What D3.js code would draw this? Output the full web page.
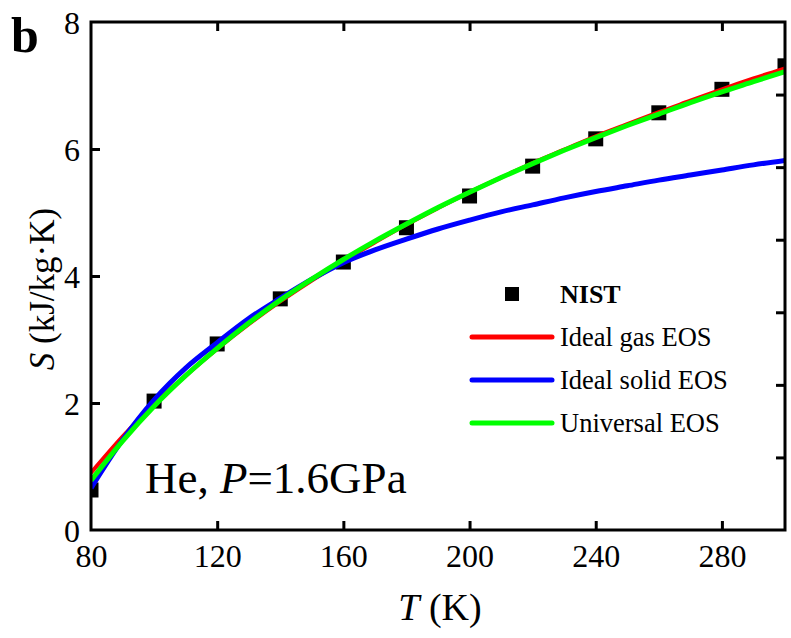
<!DOCTYPE html>
<html><head><meta charset="utf-8">
<script src="https://cdn.jsdelivr.net/npm/d3@7"></script>
<style>body{margin:0;background:#fff}svg{display:block}</style>
</head><body>
<script>
const nistT = [80,100,120,140,160,180,200,220,240,260,280,300];
const nistS = [0.63,2.03,2.93,3.64,4.22,4.76,5.26,5.73,6.16,6.57,6.94,7.31];
const curveT = [80,90,100,110,120,130,140,150,160,170,180,190,200,210,220,230,240,250,260,270,280,290,300];
const gasS = [0.90,1.47,1.98,2.43,2.85,3.24,3.60,3.93,4.24,4.53,4.81,5.07,5.32,5.55,5.78,5.99,6.20,6.39,6.58,6.76,6.94,7.11,7.27];
const solidS = [0.66,1.42,2.05,2.55,2.95,3.33,3.65,3.95,4.21,4.41,4.58,4.74,4.88,5.01,5.12,5.23,5.33,5.42,5.51,5.59,5.67,5.75,5.82];
const univS = [0.78,1.40,1.95,2.43,2.86,3.26,3.62,3.95,4.26,4.55,4.82,5.08,5.32,5.55,5.77,5.98,6.18,6.37,6.55,6.73,6.90,7.06,7.22];
const xTicks = [80,120,160,200,240,280];
const yTicks = [0,2,4,6,8];
const legendLabels = ["NIST","Ideal gas EOS","Ideal solid EOS","Universal EOS"];
const colors = {gas:"#ff0000", solid:"#0000ff", univ:"#00ff00"};

(function(){
const FONT='"Liberation Serif","Times New Roman",Times,serif';
const W=791,H=638, L=91,R=785,T=22,B=530;
const svg=d3.select("body").append("svg").attr("width",W).attr("height",H);
const x=d3.scaleLinear().domain([80,300]).range([L,R]);
const y=d3.scaleLinear().domain([0,8]).range([B,T]);

svg.append("clipPath").attr("id","clip").append("rect").attr("x",L).attr("y",T).attr("width",R-L).attr("height",B-T);
const g=svg.append("g").attr("clip-path","url(#clip)");

g.selectAll("rect.nist").data(nistT).enter().append("rect")
 .attr("x",(d)=>x(d)-7.5).attr("y",(d,i)=>y(nistS[i])-7.5).attr("width",15).attr("height",15).attr("fill","#000");

const line=d3.line().x((d)=>x(d[0])).y((d)=>y(d[1])).curve(d3.curveMonotoneX);
const series=[[gasS,colors.gas,4],[solidS,colors.solid,5],[univS,colors.univ,5]];
series.forEach(([vals,c,w])=>{
  g.append("path").datum(curveT.map((t,i)=>[t,vals[i]])).attr("d",line)
   .attr("fill","none").attr("stroke",c).attr("stroke-width",w).attr("stroke-linejoin","round");
});

const ax=svg.append("g");
const axB=ax.append("g").attr("transform",`translate(0,${B})`).call(d3.axisBottom(x).tickValues(xTicks).tickSizeInner(-9).tickSizeOuter(0).tickPadding(14).tickFormat(d3.format("d")));
const axT=ax.append("g").attr("transform",`translate(0,${T})`).call(d3.axisTop(x).tickValues(xTicks.slice(1)).tickSizeInner(-9).tickSizeOuter(0).tickFormat(""));
const axL=ax.append("g").attr("transform",`translate(${L},0)`).call(d3.axisLeft(y).tickValues(yTicks).tickSizeInner(-9).tickSizeOuter(0).tickPadding(11).tickFormat(d3.format("d")));
const rightScale=d3.scaleLinear().domain([0,7]).range([B,T]);
const axR=ax.append("g").attr("transform",`translate(${R},0)`).call(d3.axisRight(rightScale).tickValues([1,2,3,4,5,6]).tickSizeInner(-9).tickSizeOuter(0).tickFormat(""));
[axB,axT,axL,axR].forEach(a=>{
  a.attr("font-family",null);
  a.select(".domain").remove();
  a.selectAll(".tick line").attr("stroke","#000").attr("stroke-width",3);
  a.selectAll(".tick text").attr("font-size",32).attr("fill","#000");
});
axL.selectAll(".tick").filter(d=>d===0||d===8).select("line").remove();
axB.selectAll(".tick").filter(d=>d===80).select("line").remove();
axL.selectAll(".tick text").attr("dy","0.35em");
ax.append("rect").attr("x",L).attr("y",T).attr("width",R-L).attr("height",B-T).attr("fill","none").attr("stroke","#000").attr("stroke-width",3);

const xt=svg.append("text").attr("x",440).attr("y",620).attr("text-anchor","middle").attr("font-size",38);
xt.append("tspan").attr("font-style","italic").text("T");
xt.append("tspan").text(" (K)");
const yt=svg.append("text").attr("transform","translate(54,289) rotate(-90)").attr("text-anchor","middle").attr("font-size",35);
yt.append("tspan").attr("font-style","italic").text("S");
yt.append("tspan").text(" (kJ/kg·K)");

svg.append("text").attr("x",11).attr("y",52).attr("font-size",50).attr("font-weight","bold").text("b");

const he=svg.append("text").attr("x",145).attr("y",493).attr("font-size",45);
he.append("tspan").text("He, ");
he.append("tspan").attr("font-style","italic").text("P");
he.append("tspan").text("=1.6GPa");

const lg=svg.append("g");
lg.append("rect").attr("x",505).attr("y",287).attr("width",14).attr("height",14).attr("fill","#000");
lg.append("text").attr("x",560).attr("y",303).attr("font-size",26).attr("font-weight","bold").text(legendLabels[0]);
[[colors.gas,337],[colors.solid,380],[colors.univ,423]].forEach(([c,yy],i)=>{
  lg.append("line").attr("x1",472).attr("x2",552).attr("y1",yy).attr("y2",yy).attr("stroke",c).attr("stroke-width",5).attr("stroke-linecap","round");
  lg.append("text").attr("x",560).attr("y",yy+9).attr("font-size",26.5).text(legendLabels[i+1]);
});
svg.selectAll("text").style("font-family",FONT);
})();
</script>
</body></html>
